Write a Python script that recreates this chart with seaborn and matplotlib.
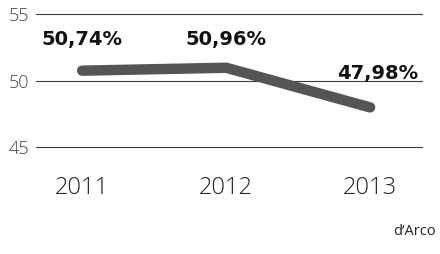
import matplotlib
matplotlib.use("Agg")
import matplotlib.pyplot as plt
import seaborn as sns
import pandas as pd

years = ["2011", "2012", "2013"]
values = [50.74, 50.96, 47.98]
labels = ["50,74%", "50,96%", "47,98%"]
yticks = [45, 50, 55]
source = "d\u2019Arco"

sns.set_theme(style="white")
plt.rcParams['font.family'] = ['Open Sans', 'DejaVu Sans']

df = pd.DataFrame({"x": range(len(years)), "y": values})

fig = plt.figure(figsize=(4.4, 2.54), dpi=100)
ax = fig.add_axes([0.082, 0.421, 0.877, 0.524])

for t in yticks:
    ax.axhline(t, color="#3a3a3a", lw=0.8, zorder=1, clip_on=False)

sns.lineplot(data=df, x="x", y="y", ax=ax, color="#555555", lw=7.5,
             solid_capstyle="round", solid_joinstyle="round", zorder=3)

ax.set_xlim(-0.32, 2.36)
ax.set_ylim(45, 55)
ax.set_yticks(yticks)
ax.set_yticklabels([str(t) for t in yticks], fontsize=13, color="#444444", fontweight="light")
ax.set_xticks(range(len(years)))
ax.set_xticklabels(years, fontsize=17, color="#222222", fontweight="light")
ax.tick_params(axis="y", length=0, pad=5)
ax.tick_params(axis="x", length=0, pad=21)
ax.set_xlabel("")
ax.set_ylabel("")
for s in ax.spines.values():
    s.set_visible(False)

offsets = [(0, 2.35), (0.0, 2.13), (0.05, 2.55)]
for i, (lab, v) in enumerate(zip(labels, values)):
    dx, dy = offsets[i]
    ax.text(i + dx, v + dy, lab, ha="center", va="center", fontsize=14,
            fontweight="bold", color="#111111", zorder=4,
            family=["DejaVu Sans"])

fig.text(0.99, 0.09, source, ha="right", va="center", fontsize=10.5, color="#222222")

fig.savefig("out.png", dpi=100, facecolor="white")
